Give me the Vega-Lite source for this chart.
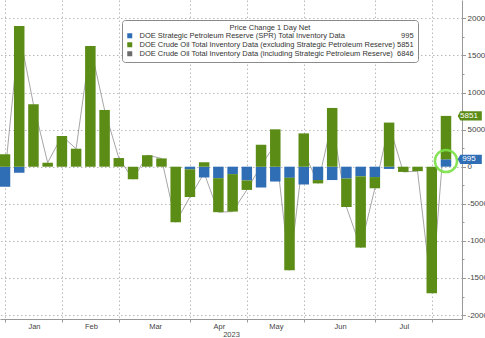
{
  "$schema": "https://vega.github.io/schema/vega-lite/v6.json",
  "width": 462,
  "height": 319,
  "autosize": {"type": "none"},
  "padding": {"left": 0, "top": 0, "right": 23, "bottom": 19},
  "background": "white",
  "config": {"font": "Liberation Sans", "view": {"stroke": null}},
  "datasets": {
    "weekly": [
      {"date": "2023-01-04", "spr": -2700, "ex": 1694, "total": -1006},
      {"date": "2023-01-11", "spr": -800, "ex": 18961, "total": 18161},
      {"date": "2023-01-18", "spr": 0, "ex": 8408, "total": 8408},
      {"date": "2023-01-25", "spr": 0, "ex": 533, "total": 533},
      {"date": "2023-02-01", "spr": 0, "ex": 4140, "total": 4140},
      {"date": "2023-02-08", "spr": 0, "ex": 2423, "total": 2423},
      {"date": "2023-02-15", "spr": 0, "ex": 16283, "total": 16283},
      {"date": "2023-02-22", "spr": 0, "ex": 7648, "total": 7648},
      {"date": "2023-03-01", "spr": 0, "ex": 1166, "total": 1166},
      {"date": "2023-03-08", "spr": 0, "ex": -1694, "total": -1694},
      {"date": "2023-03-15", "spr": 0, "ex": 1550, "total": 1550},
      {"date": "2023-03-22", "spr": 0, "ex": 1117, "total": 1117},
      {"date": "2023-03-29", "spr": 0, "ex": -7489, "total": -7489},
      {"date": "2023-04-05", "spr": -350, "ex": -3739, "total": -4089},
      {"date": "2023-04-12", "spr": -1450, "ex": 597, "total": -853},
      {"date": "2023-04-19", "spr": -1550, "ex": -4581, "total": -6131},
      {"date": "2023-04-26", "spr": -1000, "ex": -5054, "total": -6054},
      {"date": "2023-05-03", "spr": -1850, "ex": -1280, "total": -3130},
      {"date": "2023-05-10", "spr": -2800, "ex": 2951, "total": 151},
      {"date": "2023-05-17", "spr": -2000, "ex": 5040, "total": 3040},
      {"date": "2023-05-24", "spr": -1500, "ex": -12456, "total": -13956},
      {"date": "2023-05-31", "spr": -2400, "ex": 4489, "total": 2089},
      {"date": "2023-06-07", "spr": -1800, "ex": -451, "total": -2251},
      {"date": "2023-06-14", "spr": -1800, "ex": 7919, "total": 6119},
      {"date": "2023-06-21", "spr": -1600, "ex": -3831, "total": -5431},
      {"date": "2023-06-28", "spr": -1300, "ex": -9603, "total": -10903},
      {"date": "2023-07-05", "spr": -1400, "ex": -1508, "total": -2908},
      {"date": "2023-07-12", "spr": -300, "ex": 5946, "total": 5646},
      {"date": "2023-07-19", "spr": 0, "ex": -708, "total": -708},
      {"date": "2023-07-26", "spr": 0, "ex": -600, "total": -600},
      {"date": "2023-08-02", "spr": 0, "ex": -17049, "total": -17049},
      {"date": "2023-08-09", "spr": 995, "ex": 5851, "total": 6846}
    ],
    "tags": [
      {"date": "2023-08-09", "value": 6846, "label": "5851", "key": "ex"},
      {"date": "2023-08-09", "value": 995, "label": "995", "key": "spr"}
    ],
    "circle": [
      {"date": "2023-08-09", "value": 770}
    ]
  },
  "encoding": {
    "x": {
      "field": "date",
      "type": "temporal",
      "scale": {
        "domain": [
          {"year": 2023, "month": 1, "date": 4, "utc": true},
          {"year": 2023, "month": 8, "date": 14, "hours": 10, "utc": true}
        ],
        "nice": false
      },
      "axis": {
        "values": [
          {"year": 2023, "month": 1, "date": 4, "utc": true},
          {"year": 2023, "month": 2, "date": 1, "utc": true},
          {"year": 2023, "month": 3, "date": 1, "utc": true},
          {"year": 2023, "month": 4, "date": 5, "utc": true},
          {"year": 2023, "month": 5, "date": 3, "utc": true},
          {"year": 2023, "month": 5, "date": 31, "utc": true},
          {"year": 2023, "month": 7, "date": 5, "utc": true},
          {"year": 2023, "month": 8, "date": 2, "utc": true}
        ],
        "labelExpr": "utcmonth(datum.value) == 7 ? '' : utcFormat(datum.value + (utcdate(datum.value) > 20 ? 604800000 : 0), '%b')",
        "labelOffset": {"condition": {"test": "utcmonth(datum.value) == 2 || utcdate(datum.value) == 31", "value": 36.3}, "value": 29},
        "tickSize": 3,
        "labelFlush": false,
        "labelOverlap": false,
        "labelBound": false,
        "labelFontSize": 7.5,
        "labelColor": "#444",
        "labelPadding": 0.5,
        "title": "2023",
        "titleFontSize": 7.5,
        "titleFontWeight": "normal",
        "titleColor": "#444",
        "titlePadding": 0,
        "grid": true,
        "gridDash": [1.5, 2.5],
        "gridColor": "#b8b8b8",
        "domainColor": "#999",
        "tickColor": "#999"
      }
    },
    "y": {
      "field": "value",
      "type": "quantitative",
      "scale": {"domain": [-20530, 22470], "nice": false, "zero": false},
      "axis": {
        "orient": "right",
        "values": [-20000, -17500, -15000, -12500, -10000, -7500, -5000, -2500, 0, 2500, 5000, 7500, 10000, 12500, 15000, 17500, 20000],
        "labelExpr": "datum.value % 5000 == 0 ? '' + datum.value : ''",
        "tickSize": {"condition": {"test": "datum.value % 5000 != 0", "value": 2}, "value": 3.5},
        "gridOpacity": {"condition": {"test": "datum.value % 5000 != 0", "value": 0}, "value": 1},
        "grid": true,
        "gridDash": [1.5, 2.5],
        "gridColor": "#b8b8b8",
        "domainColor": "#999",
        "tickColor": "#999",
        "labelColor": "#444",
        "labelFontSize": 8,
        "labelPadding": 1.5,
        "labelFlush": false,
        "labelOverlap": false,
        "title": null
      }
    }
  },
  "layer": [
    {
      "data": {"name": "weekly"},
      "transform": [{"fold": ["total"], "as": ["key", "value"]}],
      "mark": {"type": "line", "strokeWidth": 1, "strokeOpacity": 0.6, "clip": true},
      "encoding": {
        "color": {
          "field": "key",
          "type": "nominal",
          "scale": {"domain": ["spr", "ex", "total"], "range": ["#2f6db5", "#5b8c16", "#6b6b6b"]},
          "legend": {
            "orient": "none",
            "legendX": 122,
            "legendY": 20,
            "title": "Price Change 1 Day Net",
            "titleAnchor": "middle",
            "titleFontSize": 7.5,
            "titleFontWeight": "normal",
            "titleColor": "#333",
            "titlePadding": 0.5,
            "labelFontSize": 7.5,
            "labelColor": "#333",
            "labelLimit": 500,
            "labelOffset": 6,
            "symbolType": "square",
            "symbolSize": 25,
            "symbolStrokeWidth": 0,
            "rowPadding": 0,
            "padding": 4,
            "strokeColor": "#8a8a8a",
            "fillColor": "white",
            "cornerRadius": 3,
            "labelExpr": "datum.label == 'spr' ? 'DOE Strategic Petroleum Reserve (SPR) Total Inventory Data\u00a0\u00a0\u00a0\u00a0\u00a0\u00a0\u00a0\u00a0\u00a0\u00a0\u00a0\u00a0\u00a0\u00a0\u00a0\u00a0\u00a0\u00a0\u00a0\u00a0\u00a0\u00a0\u00a0\u00a0\u00a0\u00a0\u00a0995' : datum.label == 'ex' ? 'DOE Crude Oil Total Inventory Data (excluding Strategic Petroleum Reserve)\u00a05851' : 'DOE Crude Oil Total Inventory Data (including Strategic Petroleum Reserve)\u00a0\u00a06846'",
            "encode": {"symbols": {"update": {"fill": {"scale": "color", "field": "value"}, "opacity": {"value": 1}, "strokeWidth": {"value": 0}}}}
          }
        }
      }
    },
    {
      "data": {"name": "weekly"},
      "transform": [{"fold": ["spr", "ex"], "as": ["key", "value"]}],
      "mark": {"type": "bar", "width": 10.5, "clip": true},
      "encoding": {
        "color": {"field": "key", "type": "nominal"},
        "order": {"field": "key", "sort": "descending"}
      }
    },
    {
      "data": {"name": "circle"},
      "mark": {"type": "point", "shape": "circle", "filled": false, "stroke": "#7be046", "strokeWidth": 2.5, "size": 490, "opacity": 0.9}
    },
    {
      "data": {"name": "tags"},
      "mark": {"type": "point", "shape": "M-1.15,0L-0.9,-0.45L1.2,-0.45L1.2,0.45L-0.9,0.45Z", "size": 420, "filled": true, "opacity": 1, "xOffset": 23.5, "strokeWidth": 0},
      "encoding": {
        "fill": {"field": "key", "type": "nominal", "scale": {"domain": ["spr", "ex"], "range": ["#2f6db5", "#5b8c16"]}, "legend": null}
      }
    },
    {
      "data": {"name": "tags"},
      "mark": {"type": "text", "color": "white", "fontSize": 8, "align": "center", "baseline": "middle", "dx": 23},
      "encoding": {"text": {"field": "label", "type": "nominal"}}
    }
  ]
}
